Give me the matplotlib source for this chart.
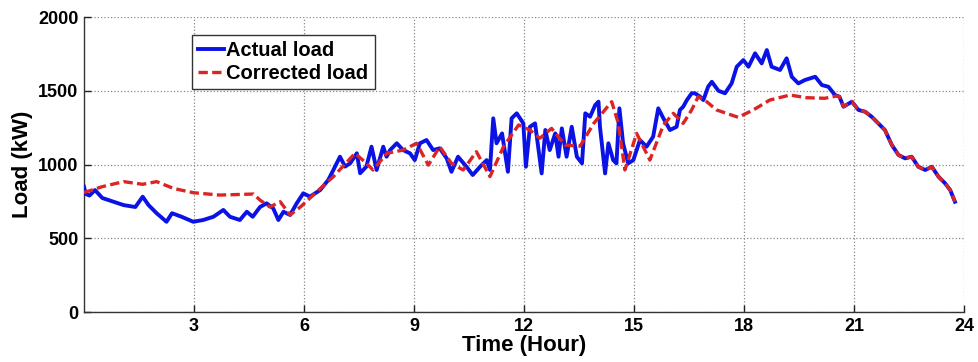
import numpy as np
import matplotlib; matplotlib.use("Agg")
import matplotlib.pyplot as plt

plt.rcParams["font.family"] = ["Liberation Sans", "DejaVu Sans"]
plt.rcParams["font.weight"] = "bold"

# --- data (hour, kW) ---
actual_t = [0.00, 0.05, 0.15, 0.30, 0.50, 0.80, 1.08, 1.40, 1.60, 1.76, 1.98, 2.25, 2.40, 2.66,
            2.98, 3.25, 3.53, 3.80, 3.98, 4.25, 4.44, 4.60, 4.80, 4.98, 5.16, 5.30, 5.44, 5.62,
            5.80, 5.98, 6.16, 6.44, 6.66, 6.80, 6.98, 7.12, 7.26, 7.44, 7.53, 7.70, 7.84, 7.98,
            8.16, 8.25, 8.35, 8.53, 8.70, 8.89, 9.02, 9.16, 9.34, 9.52, 9.70, 9.89, 10.02, 10.20,
            10.43, 10.60, 10.80, 10.98, 11.07, 11.16, 11.25, 11.40, 11.56, 11.66, 11.80, 11.98,
            12.05, 12.16, 12.30, 12.48, 12.58, 12.70, 12.85, 12.94, 13.03, 13.16, 13.30, 13.44,
            13.58, 13.67, 13.80, 13.94, 14.03, 14.07, 14.21, 14.30, 14.43, 14.52, 14.60, 14.70,
            14.84, 14.98, 15.16, 15.34, 15.52, 15.66, 15.80, 15.98, 16.16, 16.25, 16.34, 16.44,
            16.57, 16.66, 16.80, 16.89, 17.02, 17.12, 17.30, 17.48, 17.66, 17.80, 17.98, 18.12,
            18.30, 18.48, 18.62, 18.75, 18.98, 19.16, 19.30, 19.48, 19.66, 19.94, 20.12, 20.30,
            20.48, 20.60, 20.71, 20.94, 21.12, 21.30, 21.48, 21.66, 21.84, 22.03, 22.21, 22.39,
            22.57, 22.75, 22.94, 23.12, 23.30, 23.48, 23.62, 23.75]
actual_kw = [850, 800, 790, 827, 773, 748, 725, 712, 782, 725, 670, 612, 670, 646,
             612, 624, 646, 692, 646, 624, 680, 646, 712, 737, 703, 624, 680, 658,
             737, 805, 782, 827, 895, 963, 1053, 986, 1009, 1076, 941, 986, 1121, 963,
             1121, 1053, 1099, 1144, 1098, 1076, 1030, 1144, 1166, 1098, 1110, 1042, 951, 1053,
             985, 929, 985, 1030, 963, 1313, 1144, 1211, 951, 1313, 1347, 1279,
             985, 1256, 1279, 940, 1234, 1098, 1211, 1053, 1245, 1053, 1256, 1053,
             1008, 1347, 1324, 1403, 1426, 1256, 940, 1144, 1030, 1008, 1381, 1144,
             1008, 1030, 1166, 1121, 1189, 1381, 1313, 1234, 1256, 1370, 1392, 1437,
             1483, 1483, 1460, 1437, 1528, 1561, 1500, 1483, 1550, 1663, 1708, 1663,
             1754, 1686, 1776, 1663, 1641, 1720, 1595, 1550, 1573, 1595, 1539, 1527,
             1471, 1460, 1392, 1426, 1370, 1358, 1324, 1279, 1234, 1132, 1065, 1042,
             1053, 985, 963, 985, 918, 873, 827, 748]

corr_t = [0.00, 0.50, 1.08, 1.60, 1.98, 2.44, 2.98, 3.70, 4.62, 4.80, 5.07, 5.35, 5.62, 5.90,
          6.35, 6.80, 7.39, 7.70, 7.88, 8.26, 8.70, 9.07, 9.39, 9.70, 10.02, 10.34, 10.70,
          11.07, 11.44, 11.85, 12.16, 12.43, 12.75, 13.12, 13.53, 13.90, 14.39, 14.57, 14.75,
          15.07, 15.43, 15.80, 16.07, 16.34, 16.57, 16.75, 16.98, 17.25, 17.84, 18.25, 18.70,
          19.25, 19.70, 20.20, 20.53]
corr_kw = [810, 850, 884, 866, 884, 838, 809, 793, 800, 759, 712, 748, 658, 712,
           816, 918, 1076, 1009, 963, 1076, 1098, 1144, 996, 1121, 1008, 963, 1087,
           918, 1121, 1268, 1234, 1178, 1245, 1132, 1125, 1279, 1426, 1279, 963,
           1211, 1030, 1268, 1347, 1279, 1370, 1460, 1426, 1370, 1320, 1370, 1437,
           1471, 1453, 1449, 1465]
switch_hour = 20.6   # after this the corrected load follows the actual load

xticks = [3, 6, 9, 12, 15, 18, 21, 24]
yticks = [0, 500, 1000, 1500, 2000]

# corrected series = corrected part + actual tail
at, ak = np.array(actual_t), np.array(actual_kw)
tail = at >= switch_hour
ct = np.concatenate([corr_t, at[tail]])
ck = np.concatenate([corr_kw, ak[tail]])

fig = plt.figure(figsize=(9.79, 3.62), dpi=100)
ax = fig.add_axes([0.0858, 0.138, 0.899, 0.815])

ax.plot(at, ak, color="#0a12e6", lw=2.8, label="Actual load", zorder=3)
ax.plot(ct, ck, color="#dc2424", lw=2.4, ls="--", dashes=(2.8, 1.3),
        label="Corrected load", zorder=4)

ax.set_xlim(0, 24); ax.set_ylim(0, 2000)
ax.set_xticks(xticks); ax.set_yticks(yticks)
ax.tick_params(direction="in", labelsize=13, length=5, width=1, colors="#222222", pad=4)
for lb in ax.get_xticklabels() + ax.get_yticklabels():
    lb.set_fontweight("bold"); lb.set_color("black")
ax.grid(True, ls=":", color="#888888", lw=0.9)
for s in ["top", "right"]: ax.spines[s].set_visible(False)
for s in ["left", "bottom"]:
    ax.spines[s].set_color("#333333"); ax.spines[s].set_linewidth(1.0)

ax.set_xlabel("Time (Hour)", fontsize=16, fontweight="bold", labelpad=0)
ax.set_ylabel("Load (kW)", fontsize=16, fontweight="bold", labelpad=4)

leg = ax.legend(loc="upper left", bbox_to_anchor=(0.123, 0.939), borderaxespad=0,
                prop={"size": 14.5, "weight": "bold"}, handlelength=1.3, handletextpad=0.1,
                borderpad=0.3, labelspacing=0.2, fancybox=False, framealpha=1)
leg.get_frame().set_edgecolor("#333333"); leg.get_frame().set_linewidth(1.0)

fig.savefig("out.png", dpi=100)
